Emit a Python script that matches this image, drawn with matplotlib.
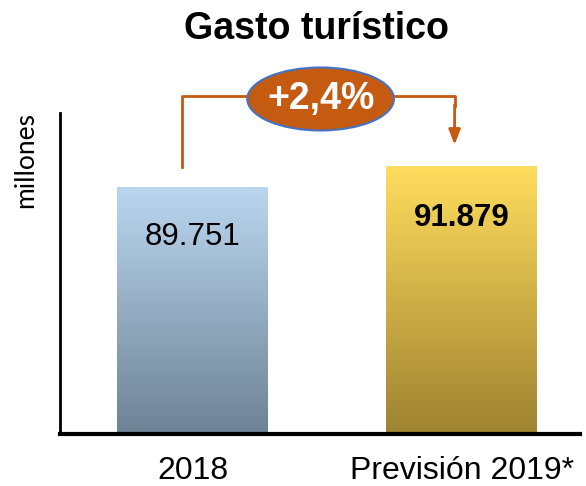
import numpy as np
import matplotlib.pyplot as plt
from matplotlib.colors import LinearSegmentedColormap
from matplotlib.patches import Ellipse

# data
categories = ["2018", "Previsión 2019*"]
values = [89751, 91879]
value_labels = ["89.751", "91.879"]
change_label = "+2,4%"

plt.rcParams['font.family'] = ['Liberation Sans', 'DejaVu Sans']

fig = plt.figure(figsize=(5.86, 4.86), dpi=100)
ax = fig.add_axes([60 / 586, 52 / 486, 520 / 586, 321 / 486])

x = np.arange(len(categories))
width = 0.56
bars = ax.bar(x, values, width=width, color="none", edgecolor="none", zorder=2)

ymin, ymax = 64823, 97340

# gradient fills (top -> bottom)
grads = [("#BAD7F0", "#6E8294"), ("#FFDD5E", "#9E8230")]
for bar, (top, bottom) in zip(bars, grads):
    cmap = LinearSegmentedColormap.from_list("g", [bottom, top])
    x0, x1 = bar.get_x(), bar.get_x() + bar.get_width()
    grad = np.linspace(0, 1, 256).reshape(-1, 1)
    ax.imshow(grad, cmap=cmap, origin="lower", aspect="auto",
              extent=[x0, x1, ymin, bar.get_height()], zorder=1)
ax.set_xlim(-0.4925, 1.44)
ax.set_ylim(ymin, ymax)

# value labels inside bars
ax.text(x[0], values[0] - 4970, value_labels[0], ha="center", va="center",
        fontsize=22.5, color="black", zorder=3)
ax.text(x[1], values[1] - 5170, value_labels[1], ha="center", va="center",
        fontsize=22.5, fontweight="bold", color="black", zorder=3)

# axes styling
for s in ["top", "right"]:
    ax.spines[s].set_visible(False)
ax.spines["left"].set_linewidth(2)
ax.spines["bottom"].set_linewidth(3)
ax.set_yticks([])
ax.set_xticks(x)
ax.set_xticklabels(categories, fontsize=23)
ax.tick_params(axis="x", length=0, pad=16)
fig.text(26 / 586, 1 - 160 / 486, "millones", rotation=90, ha="center",
         va="center", fontsize=19, family=["Lato", "DejaVu Sans"])

# bracket with arrow
orange = "#C55A11"
yb = 99060
xl, xr = -0.04, 0.974
ax.plot([xl, xl, xr, xr], [values[1], yb, yb, yb - 1000], color=orange,
        lw=2, clip_on=False, zorder=4)
ax.annotate("", xy=(xr, values[1] + 2240), xytext=(xr, yb - 900),
            arrowprops=dict(arrowstyle="-|>,head_width=0.35,head_length=0.9",
                            color=orange, lw=2, shrinkA=0, shrinkB=0),
            annotation_clip=False, zorder=4)

ell = Ellipse((0.476, yb - 300), width=146 / 268, height=63 * 101.3,
              facecolor=orange, edgecolor="#4472C4", lw=1.5,
              clip_on=False, zorder=5)
ax.add_patch(ell)
ax.text(0.476, yb - 300, change_label, ha="center", va="center", fontsize=27,
        fontweight="bold", color="white", zorder=6, clip_on=False)

fig.text(316 / 586, 1 - 29 / 486, "Gasto turístico", ha="center", va="center",
         fontsize=27, fontweight="bold")

fig.savefig("out.png", dpi=100)
